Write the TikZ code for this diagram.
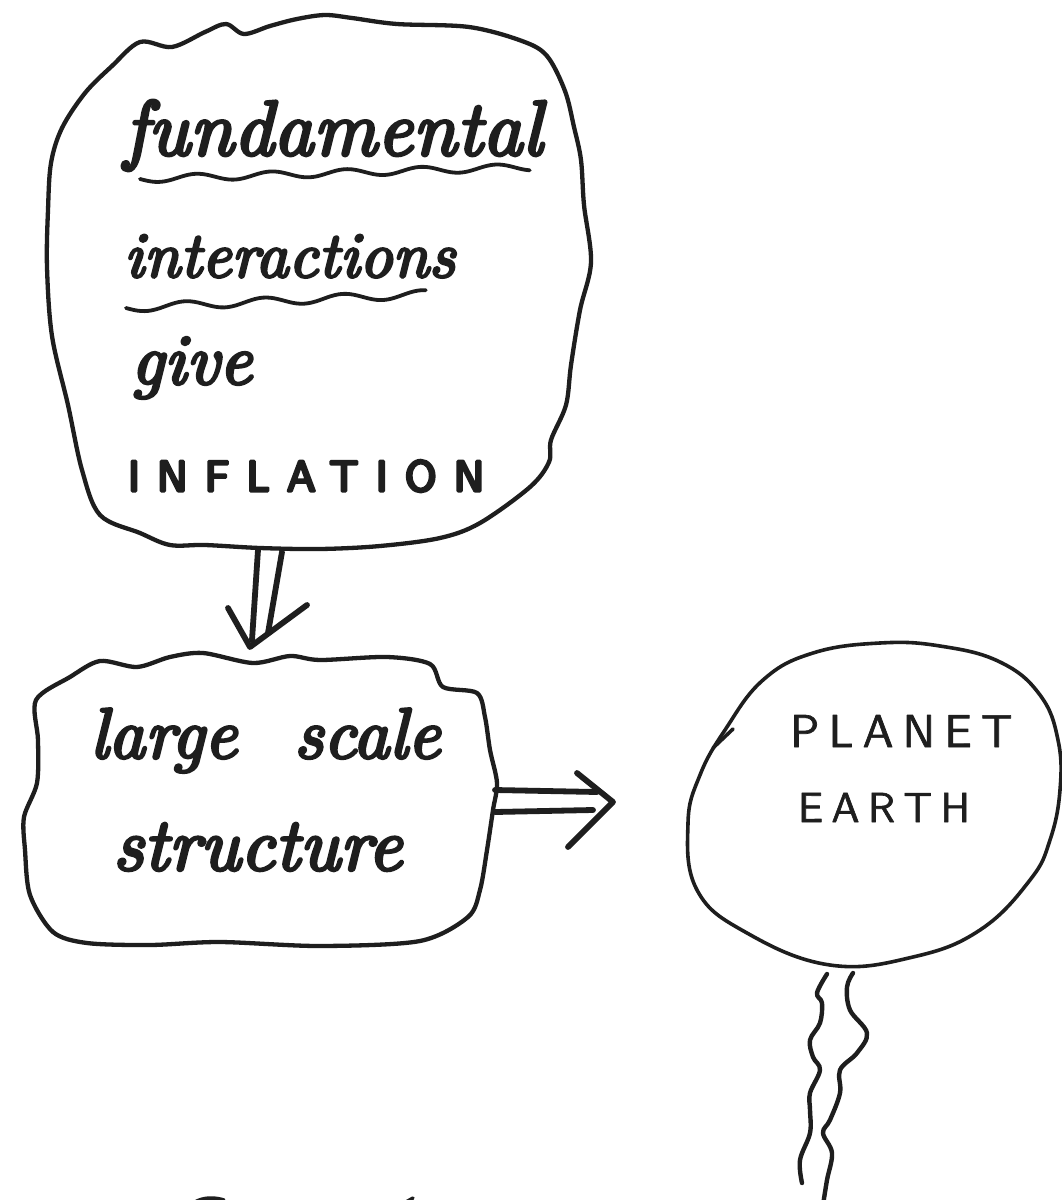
\documentclass[tikz,border=0pt]{standalone}
\usepackage{fontspec}
\usepackage{graphicx}
\newfontfamily\handfont{lmroman10-italic}[Extension=.otf, FakeBold=4]
\newfontfamily\capbold{lmsans10-regular}[Extension=.otf, FakeBold=7, LetterSpace=40]
\newfontfamily\capthin{lmsans10-regular}[Extension=.otf, FakeBold=1.5, LetterSpace=20]
\definecolor{ink}{HTML}{1E1E1E}
\newcommand\hw[2]{\resizebox{#1pt}{!}{\handfont #2}}
\begin{document}
\begin{tikzpicture}[x=1pt,y=-1pt, line cap=round, line join=round,
  blob/.style={draw=ink, line width=4.3pt},
  arrowline/.style={draw=ink, line width=5.8pt},
  squig/.style={draw=ink, line width=4.4pt},
  wave/.style={draw=ink, line width=3.8pt},
  txt/.style={inner sep=0pt, outer sep=0pt, text=ink, anchor=base west}]
\path[fill=white, use as bounding box] (0,0) rectangle (1061,1200);

% ---------- top blob ----------
\draw[blob] plot[smooth cycle, tension=0.55] coordinates {(85,93) (112,66) (140,42) (172,47) (205,32) (226,24) (244,34) (270,26) (297,19) (325,15) (352,18) (397,24) (469,27) (522,41) (547,56) (565,91) (574,127) (581,160) (584,205) (591,262) (580,310) (571,365) (566,405) (551,440) (549,462) (530,487) (480,523) (440,538) (380,546) (320,549) (260,548) (205,545) (170,545) (140,533) (100,515) (82,470) (68,405) (52,336) (47,267) (48,210) (51,163) (62,128)};

\node[txt] (fund) at (124,155) {\hw{418}{fundamental}};
\draw[wave] plot[smooth, domain=0:1, samples=80, variable=\t] ({140+390*\t},{179-12*\t+3.5*sin(\t*5.2*360)});
\node[txt] (inter) at (124,277) {\hw{331}{interactions}};
\draw[wave] plot[smooth, domain=0:1, samples=80, variable=\t] ({126+300*\t},{308-14*\t+4*sin(\t*3.8*360)});
\node[txt] (give) at (131,384) {\hw{121}{give}};
\node[txt] (infl) at (128,491) {\fontsize{43}{43}\selectfont\capbold INFLATION};

% ---------- lower blob ----------
\draw[blob] plot[smooth cycle, tension=0.5] coordinates {(36,700) (70,677) (100,661) (137,667) (170,657) (203,653) (253,663) (290,656) (320,660) (387,657) (430,664) (443,687) (477,693) (485,717) (490,750) (497,783) (493,810) (487,850) (480,890) (468,917) (420,941) (320,946) (220,942) (150,945) (87,943) (53,932) (30,895) (25,850) (24,817) (37,783) (38,740)};

\node[txt] (large) at (90,758) {\hw{350}{large\hspace{0.8em}scale}};
\node[txt] (struct) at (113,870) {\hw{289}{structure}};

% ---------- planet ----------
\draw[blob, line width=3.6pt] plot[smooth cycle, tension=0.7] coordinates {(700,775) (688,823) (697,890) (747,933) (830,965) (913,957) (980,930) (1030,880) (1050,840) (1060,790) (1058,740) (1040,695) (1000,662) (940,646) (880,643) (813,653) (763,680) (725,730)};
\coordinate (hookA) at (733,729);
\coordinate (hookB) at (713,748);
\draw[blob, line width=3.6pt] (hookA) -- (hookB);
\node[txt] (planet) at (790,747) {\fontsize{46}{46}\selectfont\capthin PLANET};
\node[txt] (earth) at (798,822) {\fontsize{42}{42}\selectfont\capthin EARTH};

% ---------- down double arrow ----------
\coordinate (d1s) at (258,550);
\coordinate (d1e) at (252,640);
\coordinate (d2s) at (282,552);
\coordinate (d2e) at (268,633);
\coordinate (dhl) at (228,608);
\coordinate (dtip) at (250,647);
\coordinate (dhr) at (307,605);
\draw[arrowline] (d1s) -- (d1e);
\draw[arrowline] (d2s) -- (d2e);
\draw[arrowline] (dhl) -- (dtip) -- (dhr);

% ---------- right double arrow ----------
\coordinate (r1s) at (495,790);
\coordinate (r1e) at (597,792);
\coordinate (r2s) at (495,812);
\coordinate (r2e) at (593,810);
\coordinate (rht) at (577,773);
\coordinate (rtip) at (613,802);
\coordinate (rhb) at (568,847);
\draw[arrowline] (r1s) -- (r1e);
\draw[arrowline] (r2s) -- (r2e);
\draw[arrowline] (rht) -- (rtip) -- (rhb);

% ---------- squiggles below planet ----------
\draw[squig] plot[smooth, tension=0.6] coordinates {(827,974) (817,993) (822,1003) (820,1023) (810,1040) (813,1057) (820,1070) (810,1093) (810,1110) (810,1133) (800,1160) (802,1183)};
\draw[squig] plot[smooth, tension=0.6] coordinates {(853,973) (847,987) (850,1010) (867,1033) (857,1053) (840,1070) (840,1093) (830,1120) (823,1133) (832,1153) (827,1180) (823,1205)};

% ---------- cut-off marks at bottom edge ----------
\draw[ink, line width=3.5pt] (195,1202) .. controls (204,1197) and (214,1197) .. (224,1200);
\draw[ink, line width=3.5pt] (406,1202) -- (413,1198);
\end{tikzpicture}
\end{document}
